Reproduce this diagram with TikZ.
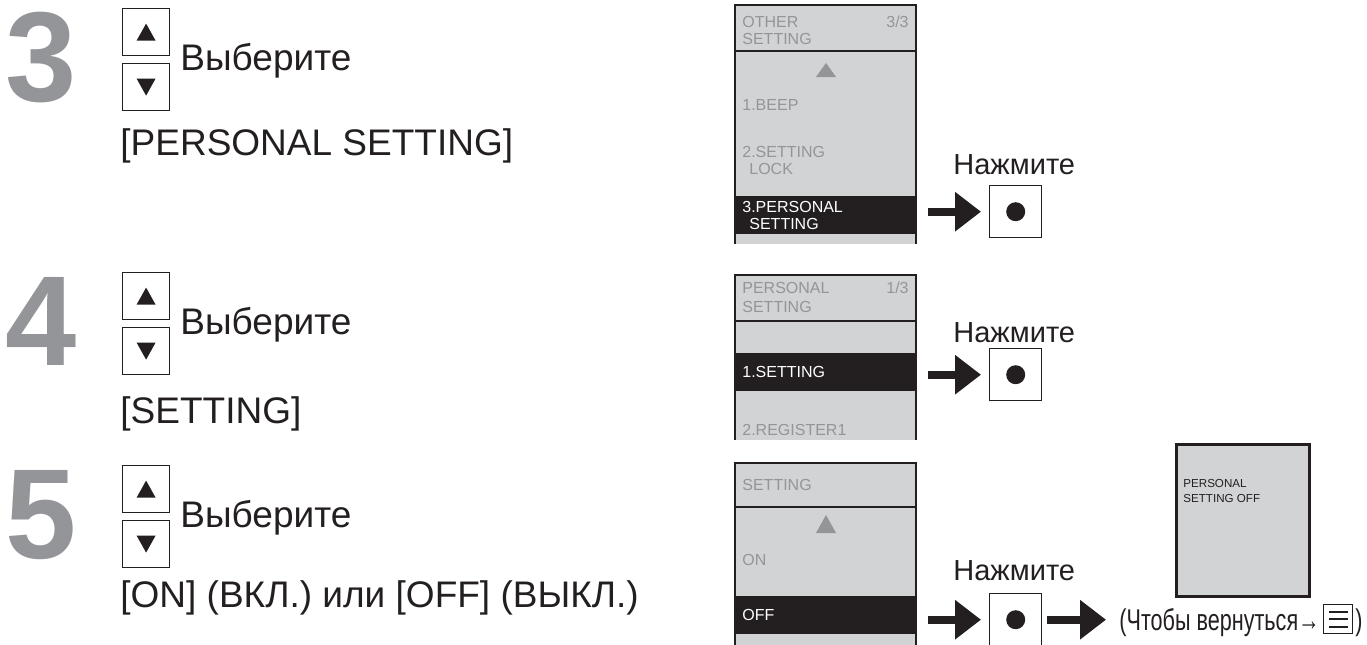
\documentclass[tikz,border=0pt]{standalone}
\usepackage{fontspec}
\setmainfont{Liberation Sans}
\usepackage{graphicx}
\usetikzlibrary{arrows.meta}

\definecolor{numgray}{HTML}{939598}
\definecolor{lcdfill}{HTML}{D1D3D4}
\definecolor{lcdtext}{HTML}{939598}
\definecolor{lcdink}{HTML}{231F20}

\begin{document}
\begin{tikzpicture}[
  x=0.5pt, y=-0.5pt,
  bignum/.style={font=\fontsize{64}{64}\selectfont\bfseries, text=numgray,
                 anchor=base west, inner sep=0pt},
  keybox/.style={draw=lcdink, line width=0.6pt, minimum size=23.5pt,
                 inner sep=0pt, anchor=north west},
  keyup/.style={keybox, path picture={\fill[lcdink]
      ([yshift=4.25pt]path picture bounding box.center)
      -- ++(-4.75pt,-8.5pt) -- ++(9.5pt,0pt) -- cycle;}},
  keydn/.style={keybox, path picture={\fill[lcdink]
      ([yshift=-4.25pt]path picture bounding box.center)
      -- ++(-4.75pt,8.5pt) -- ++(9.5pt,0pt) -- cycle;}},
  bigtxt/.style={font=\fontsize{18.5}{22}\selectfont, text=lcdink,
                 anchor=base west, inner sep=0pt},
  pushtxt/.style={font=\fontsize{14.5}{17}\selectfont, text=lcdink,
                  anchor=base west, inner sep=0pt},
  lcd/.style={font=\fontsize{8}{8.5}\selectfont, text=lcdtext,
              anchor=base west, inner sep=0pt},
  lcdline/.style={draw=lcdink, line width=1pt},
  selbar/.style={fill=lcdink, text=white, font=\fontsize{8}{8.5}\selectfont,
                 minimum width=90.5pt, minimum height=19pt, text width=83.5pt,
                 align=left, inner xsep=3.5pt, inner ysep=0pt, anchor=north west},
  okbtn/.style={draw=lcdink, line width=0.7pt, minimum size=26pt, inner sep=0pt,
                anchor=north west, path picture={\fill[lcdink]
                (path picture bounding box.center) circle (4.75pt);}},
  menubtn/.style={draw=lcdink, line width=0.7pt, minimum size=14.5pt,
                  inner sep=0pt, anchor=north west, path picture={
                  \foreach \dy in {-3.7pt,0pt,3.7pt}
                    \draw[lcdink, line width=1pt]
                      ([xshift=-4.8pt, yshift=\dy]path picture bounding box.center)
                      -- ++(9.6pt,0pt);}},
  pusharr/.style={draw=lcdink, line width=4pt,
                  -{Triangle[length=13pt,width=19pt]}},
  resscr/.style={draw=lcdink, line width=1.5pt, fill=lcdfill, anchor=north west,
                 minimum width=66.5pt, minimum height=76pt, inner sep=0pt},
]
  \useasboundingbox (0,0) rectangle (1367,644);

  % --- Step 3 ---
  \node[bignum] (n3) at (5,101) {3};
  \node[keyup] (up3) at (122,8) {};
  \node[keydn] (dn3) at (122,63) {};
  \node[bigtxt] (sel3) at (180,70) {Выберите};
  \node[bigtxt] (item3) at (120,155) {[PERSONAL SETTING]};

  % --- Step 4 ---
  \begin{scope}[shift={(0,264)}]
    \node[bignum] (n4) at (5,101) {4};
    \node[keyup] (up4) at (122,8) {};
    \node[keydn] (dn4) at (122,63) {};
    \node[bigtxt] (sel4) at (180,70) {Выберите};
    \node[bigtxt] (item4) at (120,159) {[SETTING]};
  \end{scope}

  % --- Step 5 ---
  \begin{scope}[shift={(0,457)}]
    \node[bignum] (n5) at (5,101) {5};
    \node[keyup] (up5) at (122,8) {};
    \node[keydn] (dn5) at (122,63) {};
    \node[bigtxt] (sel5) at (180,70) {Выберите};
    \node[bigtxt] (item5) at (120,150) {[ON] (ВКЛ.) или [OFF] (ВЫКЛ.)};
  \end{scope}

  % --- Screen: OTHER SETTING ---
  \fill[lcdfill] (735,5) rectangle (916,244);
  \draw[lcdline] (735,244) -- (735,5) -- (916,5) -- (916,244);
  \draw[lcdline] (735,51) -- (916,51);
  \node[lcd] (h3a) at (742,27) {OTHER};
  \node[lcd, anchor=base east] (pg3) at (909,27) {3/3};
  \node[lcd] (h3b) at (742,44) {SETTING};
  \fill[lcdtext] (816,77) -- (826,63) -- (836,77) -- cycle;
  \node[lcd] (m3a) at (742,110) {1.BEEP};
  \node[lcd] (m3b) at (742,157) {2.SETTING};
  \node[lcd] (m3c) at (749,174) {LOCK};
  \node[selbar] (bar3) at (735,196) {3.PERSONAL\\\hspace*{3.5pt}SETTING};

  \node[pushtxt] (push3) at (953,174) {Нажмите};
  \node[okbtn] (ok3) at (989,185) {};
  \draw[pusharr, shorten <=5.5pt, shorten >=4pt] (ok3.west -| bar3.east) -- (ok3.west);

  % --- Screen: PERSONAL SETTING ---
  \fill[lcdfill] (735,275) rectangle (916,440);
  \draw[lcdline] (735,440) -- (735,275) -- (916,275) -- (916,440);
  \draw[lcdline] (735,321) -- (916,321);
  \node[lcd] (h4a) at (742,293) {PERSONAL};
  \node[lcd, anchor=base east] (pg4) at (909,293) {1/3};
  \node[lcd] (h4b) at (742,312) {SETTING};
  \node[selbar] (bar4) at (735,353) {1.SETTING};
  \node[lcd] (m4a) at (742,435) {2.REGISTER1};

  \node[pushtxt] (push4) at (953,342) {Нажмите};
  \node[okbtn] (ok4) at (989,348) {};
  \draw[pusharr, shorten <=5.5pt, shorten >=4pt] (ok4.west -| bar4.east) -- (ok4.west);

  % --- Screen: SETTING ---
  \fill[lcdfill] (735,463) rectangle (916,650);
  \draw[lcdline] (735,650) -- (735,463) -- (916,463) -- (916,650);
  \draw[lcdline] (735,507) -- (916,507);
  \node[lcd] (h5a) at (742,490) {SETTING};
  \fill[lcdtext] (816,533) -- (826,515) -- (836,533) -- cycle;
  \node[lcd] (m5a) at (742,565) {ON};
  \node[selbar] (bar5) at (735,596) {OFF};

  \node[pushtxt] (push5) at (953,580) {Нажмите};
  \node[okbtn] (ok5) at (989,593) {};
  \draw[pusharr, shorten <=5.5pt, shorten >=4pt] (ok5.west -| bar5.east) -- (ok5.west);

  % --- Result and return ---
  \node[resscr] (scr6) at (1175,443) {};
  \node[lcd, text=lcdink, font=\fontsize{5.8}{7}\selectfont] (r6a) at (1183,487) {PERSONAL};
  \node[lcd, text=lcdink, font=\fontsize{5.8}{7}\selectfont] (r6b) at (1183,502) {SETTING OFF};

  \node[pushtxt, font=\fontsize{15}{17}\selectfont] (ret) at (1119,630)
       {\scalebox{0.72}[1]{(Чтобы вернуться→}};
  \node[menubtn] (menu) at (1323,604) {};
  \node[pushtxt, font=\fontsize{15}{17}\selectfont] (retend) at (1355,630)
       {\scalebox{0.72}[1]{)}};
  \draw[pusharr, shorten <=2.5pt, shorten >=6.5pt] (ok5.east) -- (ok5.east -| ret.west);
\end{tikzpicture}
\end{document}
